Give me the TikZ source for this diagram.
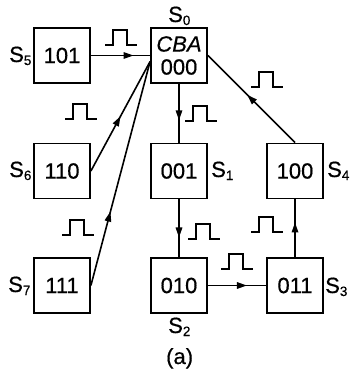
\documentclass[tikz,border=0pt]{standalone}
\usepackage{fontspec}
\setmainfont{Liberation Sans}[FakeBold=0.5]
\usetikzlibrary{arrows.meta,decorations.markings}
\newcommand{\St}[1]{S\raisebox{-3pt}{\fontsize{13.5}{14}\selectfont #1}}
\newcommand{\pulse}[2]{\draw[pulseline] (#1,#2) -- ++(8,0) -- ++(0,-15) -- ++(14,0) -- ++(0,15) -- ++(10,0);}
\begin{document}
\begin{tikzpicture}[x=1pt,y=-1pt,
  font=\fontsize{22}{23}\selectfont,
  box/.style={draw,line width=1.8pt,minimum width=56pt,minimum height=55pt,inner sep=0pt,align=center},
  conn/.style={line width=1.6pt},
  pulseline/.style={line width=1.5pt},
  lbl/.style={anchor=base west,inner sep=0pt},
  mid arrow/.style={postaction={decorate},decoration={markings,
     mark=at position #1 with {\arrow{Triangle[length=10pt,width=6.5pt]}}}}]
\useasboundingbox (0,0) rectangle (352,379);
% boxes
\node[box] (s5) at (62,55.5) {101};
\node[box] (s0) at (179,55.5) {\textit{CBA}\\000};
\node[box] (s6) at (62,171) {110};
\node[box] (s1) at (179,171) {001};
\node[box] (s4) at (295,171) {100};
\node[box] (s7) at (62,285.5) {111};
\node[box] (s2) at (179,285.5) {010};
\node[box] (s3) at (295,285.5) {011};
% labels
\node[lbl] (l5) at (9,62) {\St{5}};
\node[lbl] (l6) at (9,177) {\St{6}};
\node[lbl] (l7) at (8,292) {\St{7}};
\node[lbl] (l0) at (168,22) {\St{0}};
\node[lbl] (l1) at (211,177) {\St{1}};
\node[lbl] (l4) at (327,177) {\St{4}};
\node[lbl] (l3) at (325,293) {\St{3}};
\node[lbl] (l2) at (168,333) {\St{2}};
\node[lbl] (cap) at (166,364) {(a)};
% connectors
\coordinate (conv) at ([yshift=-6pt]s0.west);
\draw[conn,mid arrow=0.72] (s5) -- (s0);
\draw[conn,mid arrow=0.5] (s6.east) -- (conv);
\draw[conn,mid arrow=0.33] (s7.east) -- (conv);
\draw[conn,mid arrow=0.62] (s0) -- (s1);
\draw[conn,mid arrow=0.66] (s1) -- (s2);
\draw[conn,mid arrow=0.67] (s2) -- (s3);
\draw[conn,mid arrow=0.6] (s3) -- (s4);
\draw[conn,mid arrow=0.55] (s4.north) -- (s0.east);
% pulses
\pulse{105}{45}
\pulse{65}{119}
\pulse{185}{121}
\pulse{251}{87}
\pulse{62}{235}
\pulse{188}{239}
\pulse{221}{269}
\pulse{251}{232}
\end{tikzpicture}
\end{document}
